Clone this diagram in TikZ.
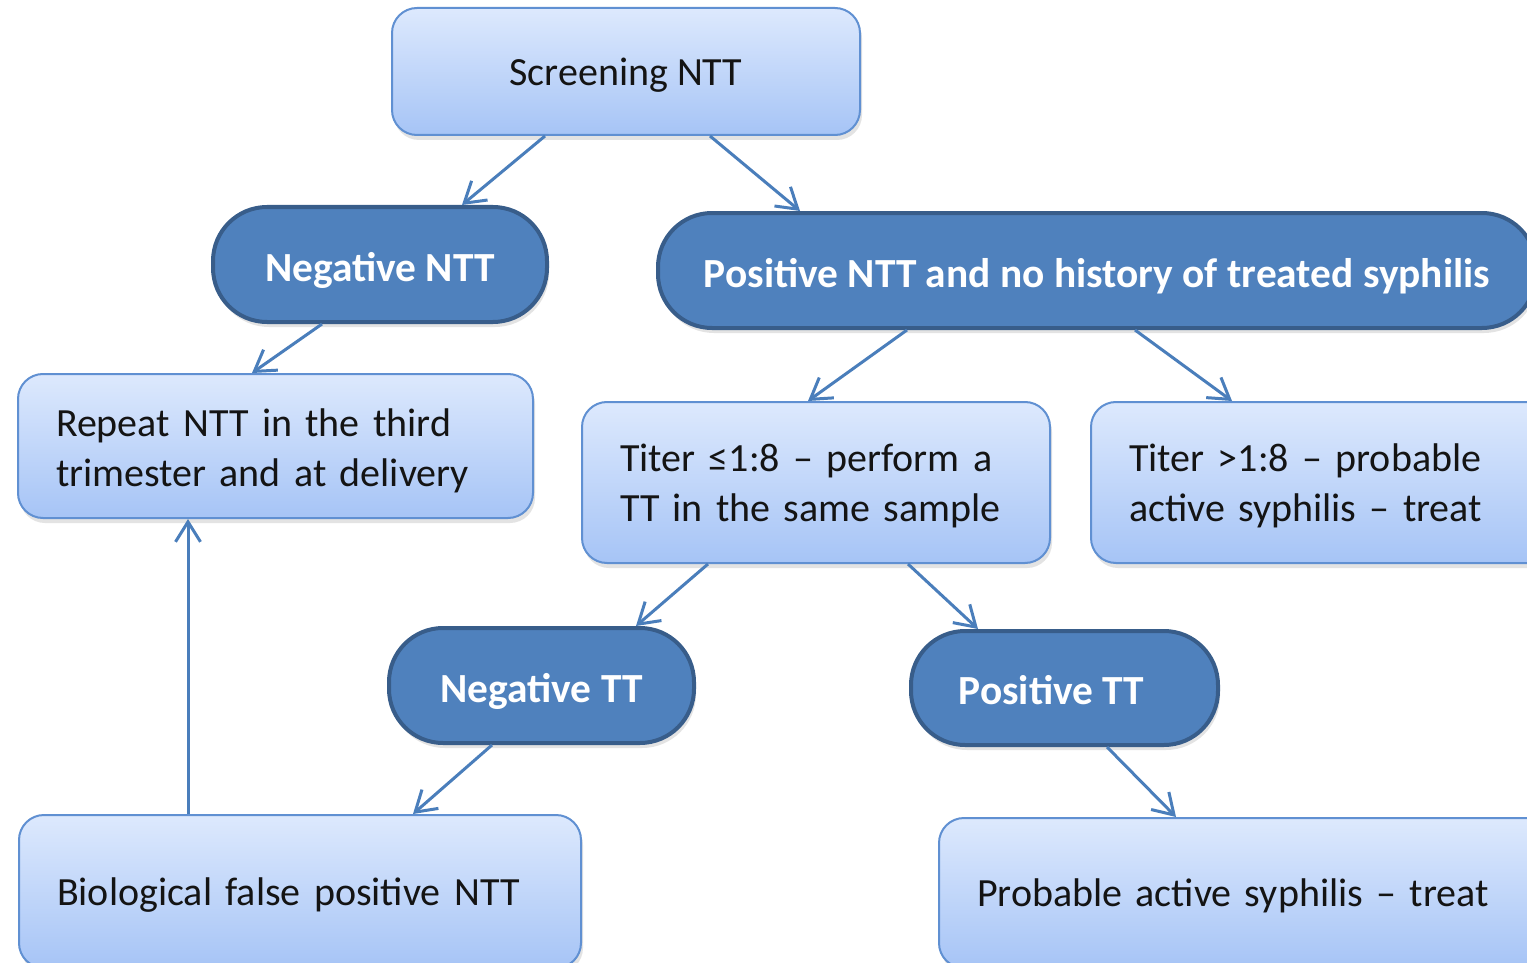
\documentclass[tikz,border=0pt]{standalone}
\usepackage{fontspec}
\setmainfont{Carlito}
\usetikzlibrary{arrows.meta,shadows,calc}
\definecolor{pillfill}{RGB}{79,129,189}
\definecolor{pilldraw}{RGB}{56,93,138}
\definecolor{boxtop}{RGB}{221,233,253}
\definecolor{boxbot}{RGB}{166,196,246}
\definecolor{boxdraw}{RGB}{96,144,210}
\definecolor{arrowc}{RGB}{74,126,187}
\definecolor{txt}{RGB}{20,20,20}
\tikzset{
  lbox/.style={draw=boxdraw, line width=1pt, rounded corners=12.5pt,
    top color=boxtop, bottom color=boxbot, text=txt,
    font=\fontsize{20}{25}\selectfont, align=left,
    inner xsep=19pt, inner ysep=0pt, text height=17pt,
    drop shadow={opacity=0.22, shadow xshift=1pt, shadow yshift=-2.5pt}},
  pill/.style={draw=pilldraw, line width=2pt, rounded corners=27pt,
    fill=pillfill, text=white,
    font=\fontsize{20.7}{25}\selectfont\bfseries, inner sep=0pt,
    text height=21pt, text depth=4.5pt,
    drop shadow={opacity=0.22, shadow xshift=1pt, shadow yshift=-2.5pt}},
  conn/.style={draw=arrowc, line width=1.5pt,
    -{Straight Barb[length=10pt,width=12.5pt]}}
}
\begin{document}
\begin{tikzpicture}[x=0.5pt,y=-0.5pt]
\useasboundingbox (0,0) rectangle (1527,963);
\clip (0,0) rectangle (1527,963);
\fill[white] (0,0) rectangle (1527,963);
% nodes
\node[lbox, align=center, minimum width=234pt, minimum height=63.5pt, text height=19pt, text depth=4.5pt] (scr) at (626,71.5) {Screening NTT};
\node[pill, minimum width=167pt, minimum height=57.5pt] (negntt) at (380,264.5) {Negative NTT};
\node[pill, minimum width=439pt, minimum height=57.5pt] (posntt) at (1097,270.5) {Positive NTT and no history of treated syphilis};
\node[lbox, text width=219.5pt, minimum height=72pt, text height=19pt] (repeat) at (275.5,446) {Repeat NTT in the third\\trimester and at delivery};
\node[lbox, text width=196pt, minimum height=80.5pt] (titerle) at (816,482.5) {Titer ≤1:8 – perform a\\TT in the same sample};
\node[lbox, text width=196.5pt, minimum height=80.5pt] (titergt) at (1325.5,482.5) {Titer >1:8 – probable\\active syphilis – treat};
\node[pill, minimum width=152.5pt, minimum height=57.5pt] (negtt) at (541.5,685.5) {Negative TT};
\node[pill, minimum width=153.5pt, minimum height=57pt] (postt) at (1064.5,688) {Positive TT\kern13pt};
\node[lbox, text width=243pt, minimum height=76.5pt] (biol) at (300,891.5) {Biological false positive NTT};
\node[lbox, text width=273pt, minimum height=75pt] (prob) at (1250,893) {Probable active syphilis – treat};
% connectors
\draw[conn] ([xshift=-40.5pt]scr.south) -- ([xshift=41pt]negntt.north);
\draw[conn] ([xshift=42pt]scr.south) -- ([xshift=-148.5pt]posntt.north);
\draw[conn] ([xshift=-29pt]negntt.south) -- ([xshift=-11.75pt]repeat.north);
\draw[conn] ([xshift=-95pt]posntt.south) -- ([xshift=-4pt]titerle.north);
\draw[conn] ([xshift=19pt]posntt.south) -- ([xshift=-46.75pt]titergt.north);
\draw[conn] ([xshift=-54pt]titerle.south) -- ([xshift=47.25pt]negtt.north);
\draw[conn] ([xshift=46pt]titerle.south) -- ([xshift=-43.25pt]postt.north);
\draw[conn] ([xshift=-24.75pt]negtt.south) -- ([xshift=56.5pt]biol.north);
\draw[conn] ([xshift=21.25pt]postt.south) -- ([xshift=-37pt]prob.north);
\draw[conn] ([xshift=-56pt]biol.north) -- ([xshift=-43.75pt]repeat.south);
\end{tikzpicture}
\end{document}
